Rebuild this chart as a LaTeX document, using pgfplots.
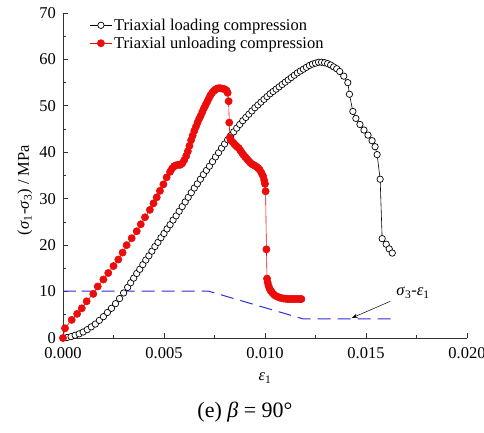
\documentclass[border=0pt]{standalone}
\usepackage{fontspec}
\setmainfont{Liberation Serif}
\usepackage{pgfplots}
\pgfplotsset{compat=1.18}
\usetikzlibrary{arrows.meta}
\definecolor{ldred}{RGB}{235,12,12}
\definecolor{sigblue}{RGB}{45,45,215}
\newcommand{\tfont}{\fontsize{16.5}{19}\selectfont}
\begin{document}
\begin{tikzpicture}
\begin{axis}[
  scale only axis, width=404pt, height=325pt,
  xmin=0, xmax=0.02, ymin=0, ymax=70,
  axis lines*=left,
  axis line style={-, line width=0.9pt, black!80},
  tick align=inside, major tick length=5pt, minor tick length=3pt,
  tick style={line width=0.8pt, black!80},
  xtick={0,0.005,0.01,0.015,0.02}, ytick={0,10,20,30,40,50,60,70},
  minor x tick num=1, minor y tick num=1,
  scaled x ticks=false,
  ticklabel style={font=\tfont, inner sep=1pt},
  xticklabel style={yshift=-8pt, /pgf/number format/.cd, fixed, fixed zerofill, precision=3},
  yticklabel style={xshift=-6pt},
  /pgf/number format/assume math mode=true,
  xlabel={\textit{ε}\textsubscript{1}},
  xlabel style={font=\tfont, at={(axis description cs:0.5,-0.123)}, anchor=center},
  ylabel={(\textit{σ}\textsubscript{1}-\textit{σ}\textsubscript{3}) / MPa},
  ylabel style={font=\tfont, at={(axis description cs:-0.094,0.455)}, anchor=center},
  legend cell align=left,
  legend style={draw=none, fill=none, at={(rel axis cs:0.058,0.995)}, anchor=north west,
    font=\tfont, row sep=1pt},
  legend image code/.code={\draw[mark repeat=2, mark phase=2] plot coordinates {(0pt,0pt) (11pt,0pt) (22pt,0pt)};},
]
\coordinate (O) at (rel axis cs:0,0);
% sigma3 - epsilon1
\addplot[sigblue, line width=1pt, dash pattern=on 13pt off 7pt, forget plot] coordinates {
  (0,10.1)(0.0007,10.1)(0.0008,10.5)(0.0009,10.1)(0.0072,10.1)(0.0119,4.1)(0.0165,4.1)
};
% triaxial loading
\addplot[black, line width=0.6pt, mark=*, mark size=3.2pt,
  mark options={fill=white, draw=black, line width=0.7pt}] coordinates {
  (0.0000,0.0)(0.0002,0.1)(0.0004,0.3)(0.0006,0.6)(0.0008,0.9)(0.0010,1.3)
  (0.0012,1.8)(0.0014,2.4)(0.0016,3.0)(0.0018,3.8)(0.0020,4.6)(0.0022,5.5)
  (0.0024,6.4)(0.0026,7.4)(0.0028,8.5)(0.0030,9.7)(0.0032,10.9)(0.00335,11.9)
  (0.0035,12.9)(0.00365,13.9)(0.0038,14.8)(0.00395,15.8)(0.0041,16.8)(0.00425,17.7)
  (0.0044,18.7)(0.00455,19.7)(0.0047,20.6)(0.00485,21.6)(0.0050,22.5)(0.00515,23.5)
  (0.0053,24.4)(0.00545,25.4)(0.0056,26.3)(0.00575,27.3)(0.0059,28.3)(0.00605,29.3)
  (0.0062,30.3)(0.00635,31.3)(0.0065,32.3)(0.00665,33.2)(0.0068,34.2)(0.00695,35.2)
  (0.0071,36.1)(0.00725,37.0)(0.0074,38.0)(0.00755,39.0)(0.0077,39.9)(0.00785,40.9)
  (0.0080,41.8)(0.00815,42.7)(0.0083,43.6)(0.00845,44.4)(0.0086,45.2)(0.00875,46.0)
  (0.0089,46.8)(0.00905,47.5)(0.0092,48.2)(0.00935,48.9)(0.0095,49.6)(0.00965,50.2)
  (0.0098,50.8)(0.00995,51.4)(0.0101,52.0)(0.01025,52.6)(0.0104,53.1)(0.01055,53.6)
  (0.0107,54.1)(0.01085,54.6)(0.0110,55.1)(0.01115,55.6)(0.0113,56.1)(0.01145,56.6)
  (0.0116,57.1)(0.01175,57.5)(0.0119,57.9)(0.01205,58.3)(0.0122,58.7)(0.01235,59.0)
  (0.0125,59.2)(0.01265,59.4)(0.0128,59.4)(0.01295,59.3)(0.0131,59.1)(0.01325,58.8)
  (0.0134,58.4)(0.01355,58.0)(0.0137,57.4)(0.0139,56.4)(0.0141,55.0)(0.01418,52.5)
  (0.01435,48.8)(0.0145,47.3)(0.0147,46.0)(0.0149,44.8)(0.0151,43.7)(0.0153,42.5)
  (0.01545,41.2)(0.01555,39.5)(0.0157,34.2)(0.0158,21.4)(0.0160,20.2)(0.01615,19.2)
  (0.0163,18.3)
};
\addlegendentry{Triaxial loading compression}
% triaxial unloading
\addplot[ldred, line width=0.6pt, mark=*, mark size=3.6pt,
  mark options={fill=ldred, draw=ldred}] coordinates {
  (0,0)(0.0001,2.1)(0.00043,3.9)(0.0007,5.2)(0.00093,6.4)(0.00117,7.9)(0.0015,9.5)
  (0.00172,11.1)(0.0020,12.6)(0.00224,14.0)(0.0025,15.5)(0.00274,16.9)(0.00295,18.4)
  (0.00315,20.0)(0.0034,21.5)(0.00365,23.0)(0.00385,24.5)(0.00406,26.0)(0.0043,27.6)
  (0.00448,29.0)(0.00464,30.3)(0.0048,31.7)(0.00497,33.1)(0.00513,34.6)(0.0053,35.8)
  (0.0054,36.5)(0.0055,37.0)(0.0056,37.2)(0.0057,37.3)(0.0058,37.3)(0.0059,37.6)
  (0.0060,38.3)(0.0061,39.2)(0.00618,40.2)(0.00626,41.4)(0.00634,42.6)(0.00642,43.6)
  (0.0065,44.6)(0.00658,45.5)(0.00666,46.4)(0.00674,47.2)(0.00682,47.9)(0.0069,48.7)
  (0.00698,49.5)(0.00706,50.2)(0.00714,50.9)(0.00722,51.6)(0.0073,52.3)(0.00738,52.8)
  (0.00746,53.2)(0.00754,53.5)(0.00762,53.7)(0.0077,53.8)(0.0078,53.8)(0.0079,53.7)
  (0.0080,53.6)(0.0081,53.3)(0.00815,52.8)(0.0082,51.0)(0.00823,46.4)(0.00826,43.2)
  (0.0083,42.6)(0.00838,42.3)(0.00846,41.9)(0.00854,41.5)(0.00862,41.2)(0.0087,40.9)
  (0.00878,40.4)(0.00886,39.9)(0.00894,39.4)(0.00902,39.0)(0.0091,38.6)(0.00918,38.2)
  (0.00926,37.8)(0.00934,37.5)(0.00942,37.3)(0.0095,37.1)(0.00958,36.9)(0.00966,36.6)
  (0.00974,36.2)(0.00982,35.6)(0.0099,34.9)(0.00996,34.0)(0.0100,33.2)(0.01003,31.6)
  (0.01007,19.1)(0.0101,12.8)(0.01013,12.0)(0.01017,11.3)(0.01022,10.7)(0.01028,10.2)
  (0.01035,9.8)(0.01043,9.4)(0.01052,9.1)(0.01062,8.9)(0.01072,8.7)(0.01082,8.6)
  (0.01092,8.5)(0.01102,8.45)(0.01112,8.4)(0.01122,8.4)(0.01132,8.4)(0.01142,8.4)
  (0.01152,8.4)(0.01162,8.4)(0.01172,8.4)(0.0118,8.4)
};
\addlegendentry{Triaxial unloading compression}
\node[font=\tfont] at (axis cs:0.01733,9.8) {\textit{σ}\textsubscript{3}-\textit{ε}\textsubscript{1}};
\draw[-{Stealth[length=6pt,width=4pt]}, line width=0.5pt] (axis cs:0.0162,7.9) -- (axis cs:0.01429,4.3);
\end{axis}
\node[font=\fontsize{22}{26}\selectfont] at ([shift={(182pt,-74pt)}]O) {(e) \textit{β} = 90°};
\pgfresetboundingbox
\path[use as bounding box] ([shift={(-63pt,-94pt)}]O) rectangle ([shift={(421pt,338pt)}]O);
\end{tikzpicture}
\end{document}
